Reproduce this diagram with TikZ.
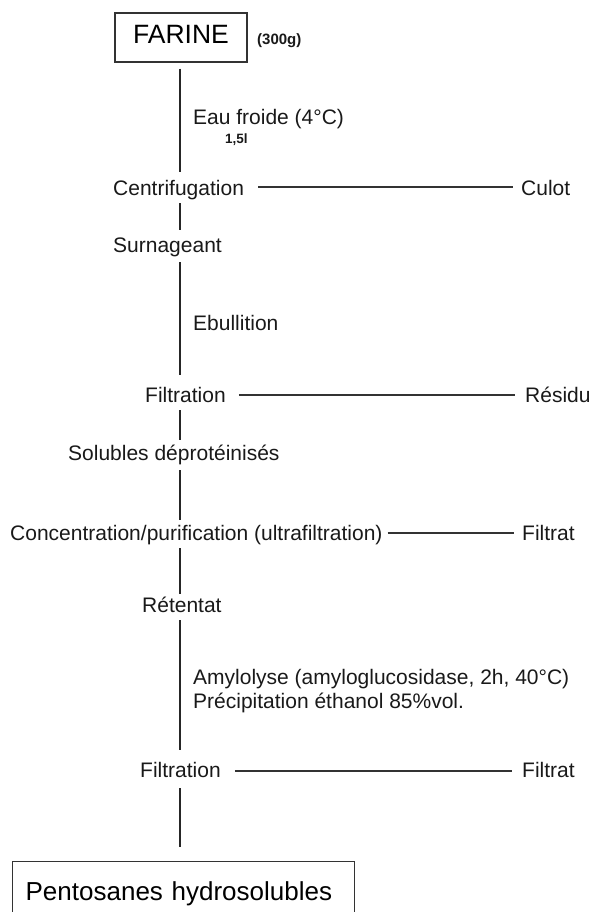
\documentclass[tikz,border=0pt]{standalone}
\usepackage{fontspec}
\setmainfont{Liberation Sans}
\begin{document}
\begin{tikzpicture}[x=1pt,y=-1pt,
  lbl/.style={inner sep=0pt, anchor=base west, text height=15pt, text depth=5pt, font=\fontsize{21}{25}\selectfont, text=black!90},
  vline/.style={line width=1.6pt, draw=black!85},
  hline/.style={line width=1.2pt, draw=black!80},
  boxed/.style={draw=black!80, line width=1.3pt}]
\useasboundingbox (0,0) rectangle (592,912);
\clip (0,0) rectangle (592,912);
\coordinate (axis) at (180,0);

\node[boxed, minimum width=132pt, minimum height=49pt, inner sep=0pt, text height=17.5pt, text depth=6pt, font=\fontsize{26.5}{30}\selectfont] (farine) at (181,37.5) {FARINE};
\node[lbl, text height=11pt, text depth=3pt, font=\bfseries\fontsize{15}{17}\selectfont] (qty) at (257,45) {(300g)};

\node[lbl] (eau) at (193,125) {Eau froide (4°C)};
\node[lbl, text height=10pt, text depth=2pt, font=\bfseries\fontsize{13.5}{15}\selectfont] (vol) at (225,144) {1,5l};

\node[lbl] (centrif) at (113,195) {Centrifugation};
\node[lbl] (culot) at (521,195) {Culot};
\node[lbl] (surn) at (113,252) {Surnageant};
\node[lbl] (ebul) at (193,330) {Ebullition};
\node[lbl] (filt1) at (145,402) {Filtration};
\node[lbl] (residu) at (525,402) {Résidu};
\node[lbl] (solub) at (68,460) {Solubles déprotéinisés};
\node[lbl] (conc) at (10,540) {Concentration/purification (ultrafiltration)};
\node[lbl] (filtrat1) at (522,540) {Filtrat};
\node[lbl] (ret) at (142,612) {Rétentat};
\node[lbl] (amyl) at (193,684) {Amylolyse (amyloglucosidase, 2h, 40°C)};
\node[lbl] (precip) at (193,708) {Précipitation éthanol 85\%vol.};
\node[lbl] (filt2) at (140,777) {Filtration};
\node[lbl] (filtrat2) at (522,777) {Filtrat};

\node[boxed, anchor=north west, minimum width=342pt, inner xsep=13pt, inner ysep=0pt, text width=316pt, align=left, text height=39pt, text depth=40pt, font=\fontsize{26}{30}\selectfont] (pent) at (12,861) {Pentosanes hydrosolubles};

% vertical spine
\draw[vline, shorten <=6pt, shorten >=8pt] (axis |- farine.south) -- (axis |- centrif.north);
\draw[vline, shorten <=3pt, shorten >=7pt] (axis |- centrif.south) -- (axis |- surn.north);
\draw[vline, shorten <=5pt, shorten >=12pt] (axis |- surn.south) -- (axis |- filt1.north);
\draw[vline, shorten <=3pt, shorten >=5pt] (axis |- filt1.south) -- (axis |- solub.north);
\draw[vline, shorten <=5pt, shorten >=5pt] (axis |- solub.south) -- (axis |- conc.north);
\draw[vline, shorten <=3pt, shorten >=3pt] (axis |- conc.south) -- (axis |- ret.north);
\draw[vline, shorten <=3pt, shorten >=12pt] (axis |- ret.south) -- (axis |- filt2.north);
\draw[vline, shorten <=6pt, shorten >=14pt] (axis |- filt2.south) -- (axis |- pent.north);

% side branches
\draw[hline] ([xshift=14pt,yshift=8pt]centrif.base east) -- ([xshift=-8pt,yshift=8pt]culot.base west);
\draw[hline] ([xshift=13pt,yshift=7pt]filt1.base east) -- ([xshift=-10pt,yshift=7pt]residu.base west);
\draw[hline] ([xshift=5pt,yshift=7pt]conc.base east) -- ([xshift=-8pt,yshift=7pt]filtrat1.base west);
\draw[hline] ([xshift=14pt,yshift=6pt]filt2.base east) -- ([xshift=-10pt,yshift=6pt]filtrat2.base west);
\end{tikzpicture}
\end{document}
